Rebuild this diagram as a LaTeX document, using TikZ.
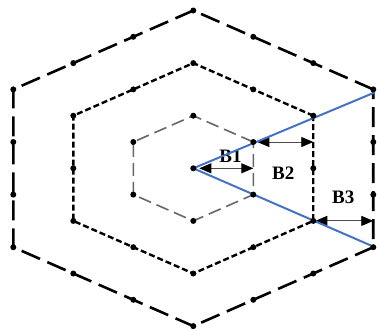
\documentclass[tikz,border=0pt]{standalone}
\usepackage{fontspec}
\setmainfont{Liberation Serif}
\usetikzlibrary{arrows.meta,calc}
\definecolor{rayblue}{RGB}{68,114,196}
\begin{document}
\begin{tikzpicture}[x=69.28pt, y=52.6pt,
  dot/.style={circle, fill=black, inner sep=0pt, minimum size=6pt},
  ringone/.style={draw=black!60, line width=1.6pt, dash pattern=on 13pt off 6pt},
  ringtwo/.style={draw=black, line width=2.4pt, dash pattern=on 6pt off 3pt},
  ringthree/.style={draw=black, line width=2.6pt, dash pattern=on 20pt off 8pt},
  span/.style={{Triangle[length=12pt,width=10pt,color=black]}-{Triangle[length=12pt,width=10pt,color=black]}, line width=0.9pt, draw=black!70},
  lbl/.style={font=\fontsize{19}{19}\selectfont\bfseries, inner sep=1pt},
  ray/.style={draw=rayblue, line width=2pt}]
\useasboundingbox (-193.3pt,-161.7pt) rectangle (183.7pt,168.3pt);
\coordinate (c) at (0,0);
% corners of the three rings
\foreach \r in {1,2,3}
  \foreach \a in {30,90,...,330}
    \coordinate (v\r-\a) at (\a:\r);
\foreach \r/\s in {1/ringone,2/ringtwo,3/ringthree}
  \draw[\s] (v\r-30) \foreach \a in {90,150,...,330}{-- (v\r-\a)} -- cycle;
% distances
\coordinate (e1) at ($(v1-30)!0.5!(v1-330)$);
\coordinate (e2) at (v1-30 -| v2-30);
\coordinate (e3) at (v2-330 -| v3-330);
\draw[span, shorten <=6pt] (c) -- node[lbl, pos=0.62, above=4pt] {B1} (e1);
\draw[span, shorten <=4pt] (v1-30) -- node[lbl, below=23pt] {B2} (e2);
\draw[span, shorten <=2pt] (v2-330) -- node[lbl, above=16pt] {B3} (e3);
% rays
\coordinate (r1) at ($(v3-30)+(1.5pt,-3pt)$);
\coordinate (r2) at ($(v3-330)+(1.5pt,0)$);
\draw[ray] (c) -- (r1);
\draw[ray] (c) -- (r2);
% dots
\node[dot] (o) at (c) {};
\foreach \r in {1,2,3}
  \foreach \a in {30,90,...,330}
    \node[dot] (d\r-\a) at (v\r-\a) {};
\foreach \a in {30,90,...,330} {
  \node[dot] (m\a) at ($(\a:2)!0.5!({\a+60}:2)$) {};
  \node[dot] (p\a) at ($(\a:3)!1/3!({\a+60}:3)$) {};
  \node[dot] (q\a) at ($(\a:3)!2/3!({\a+60}:3)$) {};
}
\end{tikzpicture}
\end{document}
